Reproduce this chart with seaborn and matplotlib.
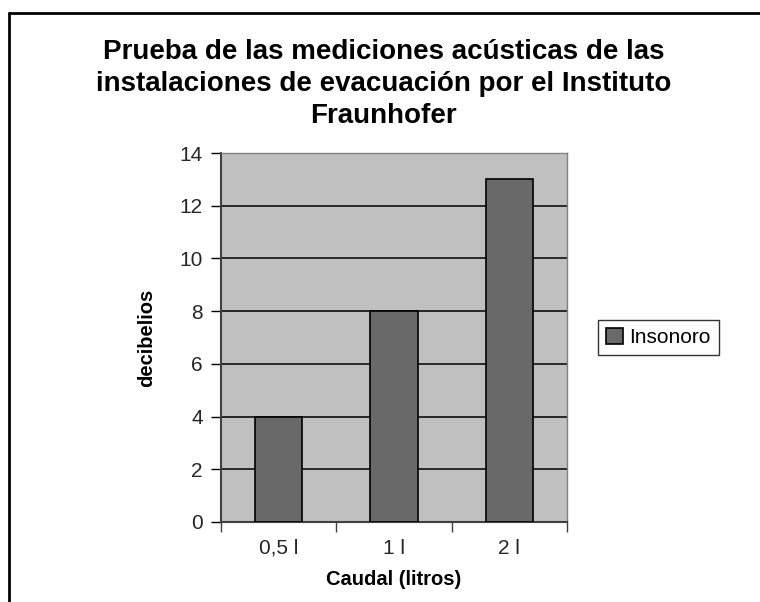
import pandas as pd
import matplotlib.pyplot as plt
import seaborn as sns
from matplotlib.lines import Line2D

caudal = ["0,5 l", "1 l", "2 l"]
decibelios = [4, 8, 13]
serie = "Insonoro"
yticks = [0, 2, 4, 6, 8, 10, 12, 14]

df = pd.DataFrame({"caudal": caudal, "db": decibelios, "serie": serie})

sns.set_style("white")
plt.rcParams["font.family"] = ["Liberation Sans", "DejaVu Sans"]

fig = plt.figure(figsize=(7.6, 6.02), dpi=100)
ax = fig.add_axes([0.2908, 0.1329, 0.455, 0.6129])

sns.barplot(data=df, x="caudal", y="db", hue="serie", palette=["#696969"],
            width=0.41, edgecolor="black", linewidth=1.2, saturation=1, ax=ax, zorder=3)

ax.set_facecolor("#c0c0c0")
ax.set_ylim(0, 14)
ax.set_xlim(-0.5, 2.5)
ax.set_yticks(yticks)
ax.set_yticklabels([str(v) for v in yticks], fontsize=15)
ax.yaxis.grid(True, color="black", linewidth=1.1, zorder=0)
ax.set_axisbelow(True)

# category ticks at the bin edges, labels centred
ax.set_xticks([-0.5, 0.5, 1.5, 2.5])
ax.set_xticklabels([])
ax.set_xticks([0, 1, 2], minor=True)
ax.set_xticklabels(caudal, minor=True, fontsize=15)
ax.tick_params(axis="x", which="minor", length=0, pad=12)
ax.tick_params(axis="x", which="major", length=7, width=1, color="#404040", direction="out", bottom=True)
ax.tick_params(axis="y", length=7, width=1, color="black", direction="out", left=True, pad=6)

for s in ["top", "right"]:
    ax.spines[s].set_color("#808080")
    ax.spines[s].set_linewidth(1)
for s in ["left", "bottom"]:
    ax.spines[s].set_color("#404040")
    ax.spines[s].set_linewidth(1.5)

ax.set_xlabel("Caudal (litros)", fontsize=14.5, fontweight="bold", labelpad=9, color="black")
ax.set_ylabel("decibelios", fontsize=14.5, fontweight="bold", labelpad=17, color="black")

fig.text(0.505, 0.935, "Prueba de las mediciones acústicas de las\ninstalaciones de evacuación por el Instituto\nFraunhofer",
         ha="center", va="top", fontsize=20, fontweight="bold", linespacing=1.3, color="black")

leg = ax.legend(loc="center left", bbox_to_anchor=(1.06, 0.5), fontsize=15,
                frameon=True, fancybox=False, edgecolor="black",
                handlelength=0.8, handleheight=0.8, handletextpad=0.3, borderpad=0.4)
leg.get_frame().set_linewidth(1)
for t in leg.get_texts():
    t.set_color("black")

# outer chart border (left and top only, rest cut off)
fig.add_artist(Line2D([0.0112, 0.0112], [0, 0.9784], color="black", linewidth=2))
fig.add_artist(Line2D([0.0112, 1], [0.9784, 0.9784], color="black", linewidth=2))

fig.savefig("out.png", dpi=100)
